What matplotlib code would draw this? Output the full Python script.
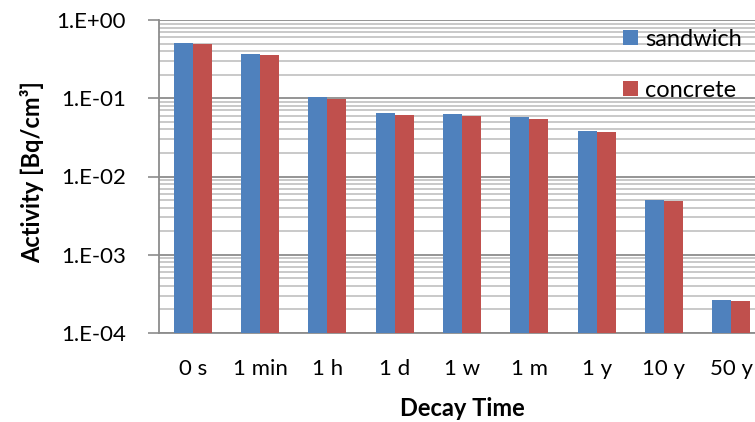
import numpy as np
import matplotlib
matplotlib.use("Agg")
import matplotlib.pyplot as plt
from matplotlib.ticker import LogLocator, FixedLocator, NullFormatter

plt.rcParams['font.family'] = ['Lato', 'DejaVu Sans']

# data
categories = ['0 s', '1 min', '1 h', '1 d', '1 w', '1 m', '1 y', '10 y', '50 y']
sandwich = [0.513, 0.368, 0.104, 0.0642, 0.0623, 0.0570, 0.0385, 0.00501, 2.64e-4]
concrete = [0.498, 0.357, 0.098, 0.0610, 0.0593, 0.0548, 0.0370, 0.00486, 2.54e-4]
ytick_values = [1e-4, 1e-3, 1e-2, 1e-1, 1e0]
ytick_labels = ['1.E-04', '1.E-03', '1.E-02', '1.E-01', '1.E+00']

blue = '#4F81BD'
red = '#C0504D'

fig = plt.figure(figsize=(7.55, 4.22), dpi=100)
ax = fig.add_axes([159 / 755, 1 - 333 / 422, 606 / 755, 313 / 422])

x = np.arange(len(categories)) + 0.5
w = 0.282
ax.bar(x - w / 2, sandwich, width=w, color=blue, label='sandwich', zorder=3)
ax.bar(x + w / 2, concrete, width=w, color=red, label='concrete', zorder=3)

ax.set_yscale('log')
ax.set_ylim(1e-4, 1)
ax.set_xlim(0, len(categories))

ax.yaxis.set_major_locator(FixedLocator(ytick_values))
ax.set_yticklabels(ytick_labels)
ax.yaxis.set_minor_locator(LogLocator(base=10, subs=np.arange(2, 10)))
ax.yaxis.set_minor_formatter(NullFormatter())
ax.grid(which='major', axis='y', color='#8C8C8C', linewidth=1.3, zorder=0)
ax.grid(which='minor', axis='y', color='#BABABA', linewidth=1.1, zorder=0)

ax.set_xticks(x)
ax.set_xticklabels(categories)
ax.tick_params(axis='x', length=0, labelsize=16, pad=19)
ax.tick_params(axis='y', which='major', length=8, width=1.2, color='#8C8C8C',
               labelsize=16, pad=16)
ax.tick_params(axis='y', which='minor', length=0)

for side in ['top', 'right']:
    ax.spines[side].set_visible(False)
for side in ['left', 'bottom']:
    ax.spines[side].set_color('#8C8C8C')
    ax.spines[side].set_linewidth(1.3)

fig.text(462 / 755, 1 - 408 / 422, 'Decay Time', fontsize=17, fontweight='bold',
         ha='center', va='center')
fig.text(32 / 755, 1 - 172 / 422, 'Activity [Bq/cm³]', fontsize=17,
         fontweight='bold', rotation=90, ha='center', va='center')

leg = ax.legend(loc='upper left', bbox_to_anchor=(623 / 755, 1 - 29 / 422),
                bbox_transform=fig.transFigure, frameon=False, fontsize=17,
                handlelength=0.62, handleheight=0.62, handletextpad=0.3,
                labelspacing=1.25, borderaxespad=0, borderpad=0)

fig.savefig('out.png', dpi=100)
